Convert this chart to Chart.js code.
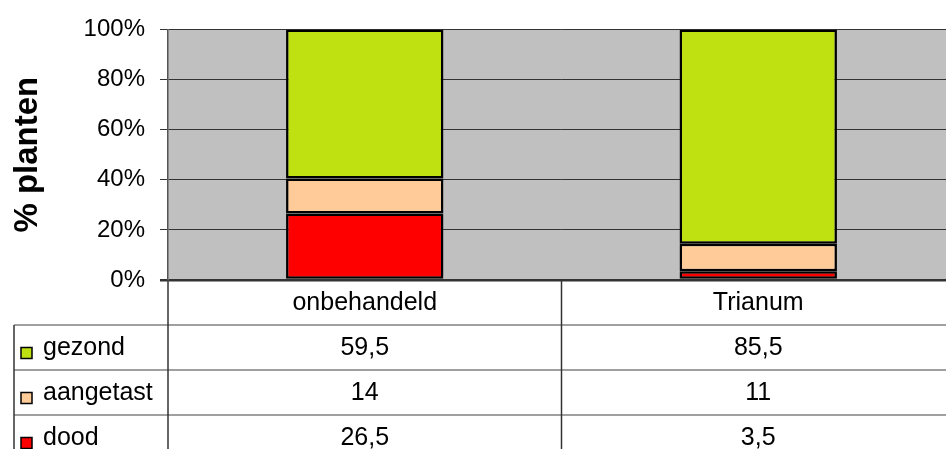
<!DOCTYPE html>
<html>
<head>
<meta charset="utf-8">
<script src="https://cdn.jsdelivr.net/npm/chart.js@4/dist/chart.umd.min.js"></script>
<style>
  html, body { margin: 0; padding: 0; background: #fff; overflow: hidden; }
  #wrap { width: 946px; height: 449px; overflow: hidden; }
</style>
</head>
<body>
<div id="wrap"><canvas id="grafiek" width="955" height="449"></canvas></div>
<script>
const categorieen = ['onbehandeld', 'Trianum'];
const dood = [26.5, 3.5];
const aangetast = [14, 11];
const gezond = [59.5, 85.5];
const yTicks = [0, 20, 40, 60, 80, 100];

const lettertype = "'Liberation Sans', Arial, sans-serif";

// volgorde van de tabelrijen (boven naar onder)
const rijen = [
    { naam: 'gezond', waarden: gezond, kleur: '#c0e111' },
    { naam: 'aangetast', waarden: aangetast, kleur: '#ffcc99' },
    { naam: 'dood', waarden: dood, kleur: '#ff0000' }
];

function formatNL(v) {
    return String(v).replace('.', ',');
}

const achtergrond = {
    id: 'achtergrond',
    beforeDraw(chart) {
        const { ctx, chartArea } = chart;
        ctx.save();
        ctx.fillStyle = '#c0c0c0';
        ctx.fillRect(chartArea.left, chartArea.top, chartArea.right - chartArea.left, chartArea.bottom - chartArea.top);
        ctx.restore();
    }
};

const datatabel = {
    id: 'datatabel',
    afterDraw(chart) {
        const { ctx, chartArea } = chart;
        const x = chart.scales.x;
        const rijHoogte = 45;
        const top = chartArea.bottom;
        const onder = chart.height;
        const linksTabel = 14;
        const scheiding = (x.getPixelForValue(0) + x.getPixelForValue(1)) / 2;

        ctx.save();
        // horizontale lijnen
        ctx.strokeStyle = '#808080';
        ctx.lineWidth = 1.5;
        for (let i = 1; i <= rijen.length; i++) {
            const y = top + i * rijHoogte;
            ctx.beginPath();
            ctx.moveTo(linksTabel, y);
            ctx.lineTo(chart.width, y);
            ctx.stroke();
        }
        // verticale lijnen
        ctx.strokeStyle = '#333';
        ctx.lineWidth = 1.5;
        [[chartArea.left, top], [scheiding, top], [linksTabel, top + rijHoogte]].forEach(([lx, ly]) => {
            ctx.beginPath();
            ctx.moveTo(lx, ly);
            ctx.lineTo(lx, onder);
            ctx.stroke();
        });

        ctx.fillStyle = '#000';
        ctx.font = '25px ' + lettertype;
        ctx.textAlign = 'center';
        ctx.textBaseline = 'middle';
        categorieen.forEach((c, i) => {
            ctx.fillText(c, x.getPixelForValue(i), top + rijHoogte / 2 + 1);
        });

        rijen.forEach((rij, r) => {
            const yMid = top + (r + 1) * rijHoogte + rijHoogte / 2 + 1;
            // legendablokje
            ctx.fillStyle = rij.kleur;
            ctx.fillRect(21, yMid - 1, 11, 11);
            ctx.strokeStyle = '#000';
            ctx.lineWidth = 1.5;
            ctx.strokeRect(21, yMid - 1, 11, 11);

            ctx.fillStyle = '#000';
            ctx.textAlign = 'left';
            ctx.fillText(rij.naam, 43, yMid);
            ctx.textAlign = 'center';
            rij.waarden.forEach((v, i) => {
                ctx.fillText(formatNL(v), x.getPixelForValue(i), yMid);
            });
        });
        ctx.restore();
    }
};

const grafiek = new Chart(document.getElementById('grafiek'), {
    type: 'bar',
    data: {
        labels: categorieen,
        datasets: [
            { label: 'dood', data: dood, backgroundColor: '#ff0000' },
            { label: 'aangetast', data: aangetast, backgroundColor: '#ffcc99' },
            { label: 'gezond', data: gezond, backgroundColor: '#c0e111' }
        ].map(d => Object.assign(d, {
            borderColor: '#000',
            borderWidth: 2.5,
            borderSkipped: false,
            barPercentage: 0.4,
            categoryPercentage: 1
        }))
    },
    options: {
        responsive: false,
        animation: false,
        events: [],
        layout: {
            padding: { top: 27, bottom: 169, left: 0, right: 0 }
        },
        plugins: {
            legend: { display: false },
            tooltip: { enabled: false }
        },
        scales: {
            x: {
                stacked: true,
                display: false
            },
            y: {
                stacked: true,
                min: 0,
                max: 100,
                afterFit(scale) { scale.width = 168; },
                afterBuildTicks(scale) { scale.ticks = yTicks.map(v => ({ value: v })); },
                ticks: {
                    padding: 15,
                    color: '#000',
                    font: { family: lettertype, size: 24 },
                    callback: v => v + '%'
                },
                grid: {
                    color: '#333',
                    lineWidth: ctx => (ctx.tick && ctx.tick.value === 0 ? 2.5 : 1),
                    tickLength: 8,
                    tickColor: '#333'
                },
                border: { color: '#555', width: 1.5 },
                title: {
                    display: true,
                    text: '% planten',
                    color: '#000',
                    font: { family: lettertype, size: 33, weight: 'bold', lineHeight: 1 },
                    padding: { top: 11, bottom: 0 }
                }
            }
        }
    },
    plugins: [achtergrond, datatabel]
});
</script>
</body>
</html>
